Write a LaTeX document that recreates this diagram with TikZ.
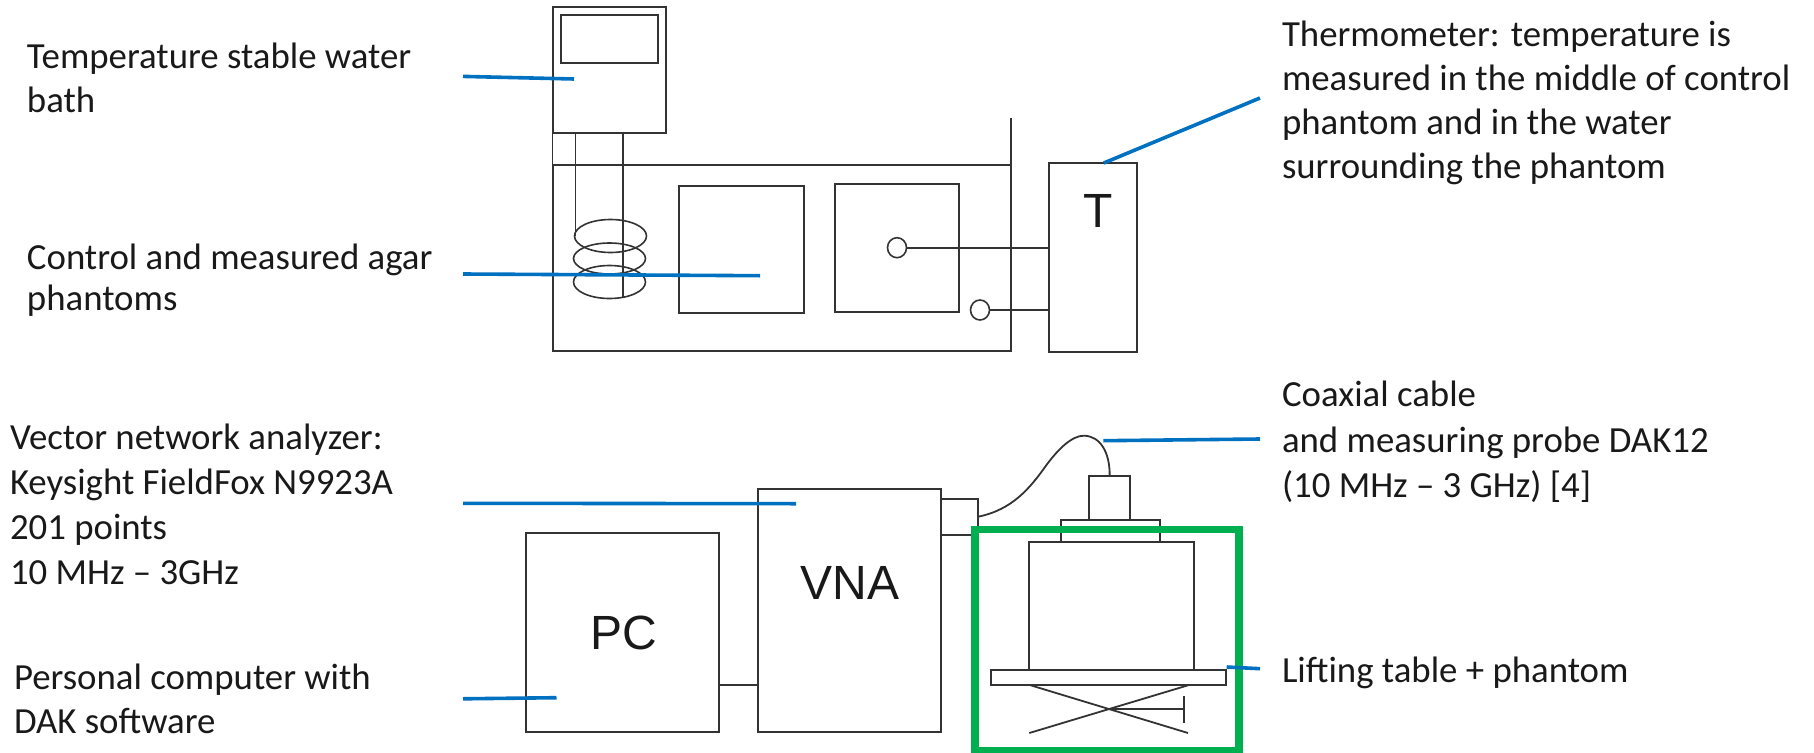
\documentclass[tikz,border=0pt]{standalone}
\usepackage{fontspec}
\setmainfont{Carlito}
\newfontfamily\arialfam{Liberation Sans}
\usetikzlibrary{shapes.geometric}
\definecolor{linegray}{HTML}{333333}
\definecolor{leaderblue}{HTML}{0070C0}
\definecolor{framegreen}{HTML}{00B050}
\tikzset{
  x=1pt,y=-1pt,
  boxst/.style={draw=linegray,line width=2pt,rectangle,inner sep=0pt,outer sep=0pt,anchor=north west},
  wire/.style={draw=linegray,line width=1.8pt},
  coil/.style={draw=linegray,line width=1.6pt,ellipse,inner sep=0pt,outer sep=0pt},
  leader/.style={draw=leaderblue,line width=3.6pt},
  greenframe/.style={draw=framegreen,line width=7.5pt,rectangle,inner sep=0pt,outer sep=0pt,anchor=north west},
  note/.style={inner sep=0pt,outer sep=0pt,anchor=north west,align=left,font=\fontsize{36.8}{44.3}\selectfont,text=black!90},
  biglabel/.style={inner sep=0pt,outer sep=0pt,font=\arialfam\fontsize{48}{50}\selectfont,text=black!90},
}
\begin{document}
\begin{tikzpicture}
\useasboundingbox (0,0) rectangle (1814,752);
% water bath
\node[boxst,minimum width=113.3pt,minimum height=126pt] (bath) at (552.5,7) {};
\node[boxst,minimum width=97pt,minimum height=47.7pt] (display) at (561,15.3) {};
\node[boxst,minimum width=458.5pt,minimum height=186pt] (tank) at (552.5,165) {};
\coordinate (walltop) at (1011,118);
\draw[wire] (tank.north east) -- (walltop);
\draw[wire] (bath.south west) -- (tank.north west);
% tubes and coil
\coordinate (tubeLtop) at (575.5,133);
\coordinate (tubeLend) at (575.5,236);
\coordinate (tubeRtop) at (623,133);
\coordinate (tubeRend) at (623,297);
\draw[wire] (tubeLtop) -- (tubeLend);
\draw[wire] (tubeRtop) -- (tubeRend);
\node[coil,minimum width=72pt,minimum height=33pt] (coilA) at (610.5,236) {};
\node[coil,minimum width=72pt,minimum height=31pt] (coilB) at (609.5,258.5) {};
\node[coil,minimum width=72pt,minimum height=33pt] (coilC) at (609.5,282) {};
% phantoms
\node[boxst,minimum width=124.8pt,minimum height=127.5pt] (phantomA) at (678.8,185.5) {};
\node[boxst,minimum width=124pt,minimum height=128.5pt] (phantomB) at (835,183.5) {};
\node[coil,minimum width=19pt,minimum height=20pt] (sensorA) at (897,247.7) {};
\node[coil,minimum width=19pt,minimum height=20pt] (sensorB) at (980,310) {};
% thermometer
\node[boxst,minimum width=88pt,minimum height=189pt] (thermo) at (1049.3,163) {};
\node[biglabel] (tlabel) at (1098,211) {T};
\draw[wire] (sensorA.east) -- (sensorA.east -| thermo.west);
\draw[wire] (sensorB.east) -- (sensorB.east -| thermo.west);
% lower group
\node[boxst,minimum width=192.5pt,minimum height=199pt] (pc) at (526,533.4) {};
\node[biglabel] (pclabel) at (624,633) {PC};
\node[boxst,minimum width=183pt,minimum height=243pt] (vna) at (758,489.4) {};
\node[biglabel] (vnalabel) at (850,583) {VNA};
\draw[wire] (pc.east |- 0,685) -- (vna.west |- 0,685);
\node[boxst,minimum width=37pt,minimum height=36pt] (adapter) at (941,499.3) {};
\node[boxst,minimum width=40.7pt,minimum height=44pt] (probe) at (1089.3,476) {};
\node[boxst,minimum width=98.7pt,minimum height=22pt] (flange) at (1061.3,520) {};
\node[boxst,minimum width=164.7pt,minimum height=128pt] (sample) at (1029,542) {};
\node[boxst,minimum width=235pt,minimum height=15.3pt] (liftplate) at (991,670) {};
\coordinate (cableStart) at (978,516.7);
\draw[wire] (cableStart) .. controls (1012,510) and (1030,488) .. (1045,467)
  .. controls (1058,449) and (1072,435.5) .. (1084,435.7)
  .. controls (1100,436) and (1110,452) .. (probe.north);
% scissor lift
\coordinate (scA) at (1030.7,685.3);
\coordinate (scB) at (1188,733);
\coordinate (scC) at (1188,685.3);
\coordinate (scD) at (1029.3,733);
\coordinate (handleA) at (1111,709.3);
\coordinate (handleB) at (1183.7,709.3);
\coordinate (barA) at (1183.7,696);
\coordinate (barB) at (1183.7,723);
\draw[wire] (scA) -- (scB);
\draw[wire] (scC) -- (scD);
\draw[wire] (handleA) -- (handleB);
\draw[wire] (barA) -- (barB);
% green frame
\node[greenframe,minimum width=264pt,minimum height=221.5pt] (frame) at (975,529.5) {};
% labels
\node[note] (tBath) at (27,43) {Temperature stable water\\bath};
\node[note,font=\fontsize{36.8}{41}\selectfont] (tAgar) at (27,244) {Control and measured agar\\phantoms};
\node[note,font=\fontsize{36.8}{45}\selectfont] (tVNA) at (10,424) {Vector network analyzer:\\Keysight FieldFox N9923A\\201 points\\10 MHz -- 3GHz};
\node[note] (tPC) at (14,664) {Personal computer with\\DAK software};
\node[note] (tThermo) at (1282,20.5) {Thermometer: temperature is\\measured in the middle of control\\phantom and in the water\\surrounding the phantom};
\node[note,font=\fontsize{36.8}{45.5}\selectfont] (tCable) at (1282,381) {Coaxial cable\\and measuring probe DAK12\\(10 MHz -- 3 GHz) [4]};
\node[note] (tLift) at (1282,656.6) {Lifting table + phantom};
% leaders
\coordinate (lBath) at (463,76.4);
\coordinate (lBathEnd) at (574,79);
\coordinate (lAgar) at (463,274);
\coordinate (lAgarEnd) at (760,275.7);
\coordinate (lVNA) at (463,503.3);
\coordinate (lVNAEnd) at (796,503.7);
\coordinate (lPC) at (463,698.8);
\coordinate (lPCEnd) at (556.5,697.7);
\coordinate (lTh) at (1260,98);
\coordinate (lThEnd) at (1103.8,163);
\coordinate (lCa) at (1260,439);
\coordinate (lCaEnd) at (1103.3,440.7);
\coordinate (lLi) at (1260,668.7);
\coordinate (lLiEnd) at (1226.7,667);
\draw[leader] (lBath) -- (lBathEnd);
\draw[leader] (lAgar) -- (lAgarEnd);
\draw[leader] (lVNA) -- (lVNAEnd);
\draw[leader] (lPC) -- (lPCEnd);
\draw[leader] (lTh) -- (lThEnd);
\draw[leader] (lCa) -- (lCaEnd);
\draw[leader] (lLi) -- (lLiEnd);
\end{tikzpicture}
\end{document}
